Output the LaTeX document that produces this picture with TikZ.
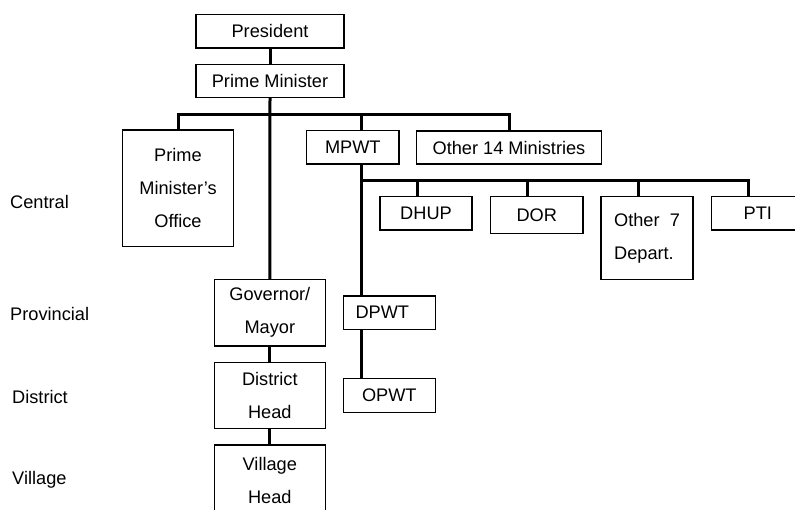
\documentclass[tikz,border=0pt]{standalone}
\usepackage{fontspec}
\setmainfont{Liberation Sans}
\begin{document}
\begin{tikzpicture}[x=1pt,y=-1pt,
  orgbox/.style={draw,line width=1.2pt,inner sep=0pt,outer sep=0pt,
    align=center,font=\fontsize{18.2}{33}\selectfont},
  level/.style={anchor=west,inner sep=0pt,font=\fontsize{18.2}{21}\selectfont},
  link/.style={line width=3pt}]
\useasboundingbox (0,0) rectangle (795,509);
\clip (0,0) rectangle (795,509);

% level names
\node[level] (lcen) at (10,202) {Central};
\node[level] (lpro) at (10,314) {Provincial};
\node[level] (ldis) at (12,397) {District};
\node[level] (lvil) at (12,480) {Village};

% national offices
\node[orgbox,minimum width=148pt,minimum height=33.3pt] (pres) at (270,31.3) {President};
\node[orgbox,minimum width=148pt,minimum height=33pt] (pm) at (270,81.2) {Prime Minister};
\node[orgbox,minimum width=110.6pt,minimum height=116.6pt] (pmo) at (178,188.3) {Prime\\Minister’s\\Office};
\node[orgbox,minimum width=92.3pt,minimum height=33.3pt] (mpwt) at (352.8,147.3) {MPWT};
\node[orgbox,minimum width=184.6pt,minimum height=33pt] (oth14) at (509,147.5) {Other 14 Ministries};

% departments of the ministry
\node[orgbox,minimum width=92pt,minimum height=33.3pt] (dhup) at (426,213.3) {DHUP};
\node[orgbox,minimum width=92.3pt,minimum height=36.6pt] (dor) at (536.8,215) {DOR};
\node[orgbox,minimum width=92pt,minimum height=82.6pt,align=left] (oth7) at (647,238) {Other\ \ 7\\Depart.};
\node[orgbox,minimum width=88.3pt,minimum height=33.3pt] (pti) at (755.8,213.3) {\hspace*{4pt}PTI};

% local administration
\node[orgbox,minimum width=111pt,minimum height=66.7pt] (gov) at (269.8,312.7) {Governor/\\Mayor};
\node[orgbox,minimum width=111pt,minimum height=66.4pt] (dist) at (269.8,395.5) {District\\Head};
\node[orgbox,minimum width=111pt,minimum height=71pt] (vil) at (269.8,480.5) {Village\\Head};
\node[orgbox,minimum width=92pt,minimum height=33.3pt] (dpwt) at (389.3,312.7) {DPWT\hspace*{14pt}};
\node[orgbox,minimum width=92pt,minimum height=33.6pt] (opwt) at (389.3,395.5) {OPWT};

% junction points
\coordinate (bus) at (270,114.3);
\coordinate (spine) at (361.5,180.7);

% connectors
\draw[link] (pres) -- (pm);
\draw[link] (pm.south) -- (gov.north);
\draw[link] (pmo.north) |- (bus) -| (oth14.north);
\draw[link] (spine |- mpwt.north) -- (spine |- bus);
\draw[link] (gov) -- (dist);
\draw[link] (dist) -- (vil);
\draw[link] (spine |- mpwt.south) -- (spine |- dpwt.north);
\draw[link] (spine |- dpwt.south) -- (spine |- opwt.north);
\draw[link] (spine) -| ([xshift=-7pt]pti.north);
\draw[link] ([xshift=-9pt]dhup.north) -- ([xshift=-9pt]dhup.north |- spine);
\draw[link] ([xshift=-9pt]dor.north) -- ([xshift=-9pt]dor.north |- spine);
\draw[link] ([xshift=-9pt]oth7.north) -- ([xshift=-9pt]oth7.north |- spine);
\end{tikzpicture}
\end{document}
